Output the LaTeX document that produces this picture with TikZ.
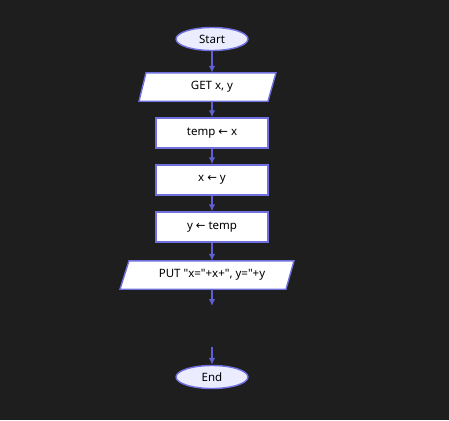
\documentclass[tikz,border=0pt]{standalone}
\usepackage{fontspec}
\newfontfamily\nf{Noto Sans}
\newfontfamily\arrowfont{DejaVu Sans}
\usetikzlibrary{arrows.meta,shapes.geometric,calc}
\definecolor{bgc}{RGB}{30,30,30}
\definecolor{edgec}{RGB}{112,112,222}
\definecolor{linec}{RGB}{96,96,212}
\definecolor{termfill}{RGB}{236,236,255}
\newcommand{\larr}{{\arrowfont\char"2190}}
\begin{document}
\begin{tikzpicture}[x=1pt,y=-1pt,
  every node/.style={font=\nf\fontsize{11.5}{13}\selectfont, text=black},
  term/.style={ellipse, draw=edgec, fill=termfill, line width=1.4pt, minimum width=72pt, minimum height=23pt, inner sep=0pt},
  proc/.style={rectangle, draw=edgec, fill=white, line width=1.4pt, minimum width=112pt, minimum height=30pt, inner sep=0pt},
  iotext/.style={rectangle, minimum height=28pt, inner sep=0pt},
  iobox/.style={draw=edgec, fill=white, line width=1.4pt, line join=miter},
  flow/.style={draw=linec, line width=1.6pt, -{Latex[length=7pt,width=6.5pt]}}
]
\fill[bgc] (0,0) rectangle (449,420);
\useasboundingbox (0,0) rectangle (449,420);

\node[term] (start) at (212,39) {Start};

% GET parallelogram
\node[iotext] (get) at (212,87) {};
\draw[iobox] ($(get.south)+(-73,0)$) -- ($(get.south)+(56,0)$) -- ($(get.north)+(64,0)$) -- ($(get.north)+(-66,0)$) -- cycle;
\node[iotext] at (get) {GET x, y};

\node[proc] (p1) at (212,133) {temp \larr{} x};
\node[proc] (p2) at (212,180) {x \larr{} y};
\node[proc] (p3) at (212,227) {y \larr{} temp};

% PUT parallelogram
\node[iotext] (put) at (212,275) {};
\draw[iobox] ($(put.south)+(-92,0)$) -- ($(put.south)+(74,0)$) -- ($(put.north)+(82,0)$) -- ($(put.north)+(-83,0)$) -- cycle;
\node[iotext] at (put) {PUT "x="+x+", y="+y};

\node[term] (end) at (212,377) {End};

\coordinate (gapA) at (212,306);
\coordinate (gapB) at (212,347);

\draw[flow] (start) -- (get.north);
\draw[flow] (get.south) -- (p1);
\draw[flow] (p1) -- (p2);
\draw[flow] (p2) -- (p3);
\draw[flow] (p3) -- (put.north);
\draw[flow] (put.south) -- (gapA);
\draw[flow] (gapB) -- (end);
\end{tikzpicture}
\end{document}
